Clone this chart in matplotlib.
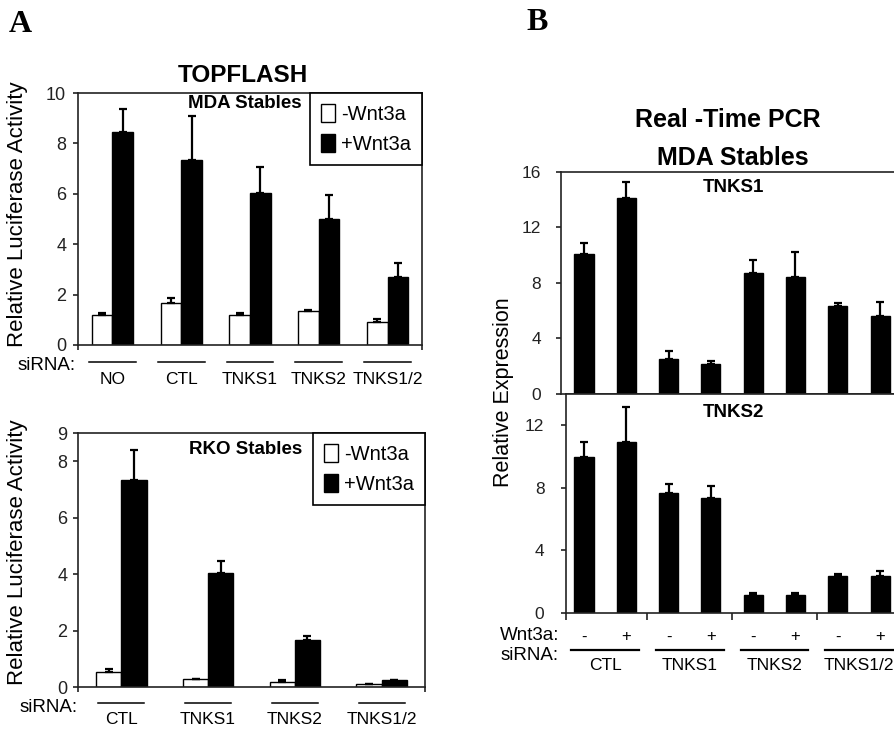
import matplotlib
matplotlib.use("Agg")
import matplotlib.pyplot as plt
from matplotlib.patches import Patch
from matplotlib.transforms import blended_transform_factory

# ---------------- data ----------------
mda_cats = ['NO', 'CTL', 'TNKS1', 'TNKS2', 'TNKS1/2']
mda_minus = [1.2, 1.65, 1.2, 1.33, 0.9]
mda_minus_err = [0.05, 0.22, 0.06, 0.07, 0.13]
mda_plus = [8.45, 7.35, 6.05, 5.0, 2.7]
mda_plus_err = [0.9, 1.75, 1.0, 0.97, 0.55]

rko_cats = ['CTL', 'TNKS1', 'TNKS2', 'TNKS1/2']
rko_minus = [0.53, 0.3, 0.18, 0.12]
rko_minus_err = [0.12, 0.0, 0.06, 0.0]
rko_plus = [7.35, 4.05, 1.66, 0.24]
rko_plus_err = [1.03, 0.42, 0.15, 0.02]

pcr_groups = ['CTL', 'TNKS1', 'TNKS2', 'TNKS1/2']
wnt_signs = ['-', '+', '-', '+', '-', '+', '-', '+']
tnks1_expr = [10.1, 14.1, 2.55, 2.15, 8.7, 8.45, 6.35, 5.65]
tnks1_err = [0.8, 1.2, 0.52, 0.25, 0.95, 1.8, 0.22, 0.95]
tnks2_expr = [10.0, 10.9, 7.7, 7.35, 1.13, 1.13, 2.37, 2.37]
tnks2_err = [0.95, 2.3, 0.57, 0.77, 0.17, 0.17, 0.15, 0.3]

legend_labels = ['-Wnt3a', '+Wnt3a']

# ---------------- figure ----------------
plt.rcParams['font.family'] = ['Liberation Sans', 'DejaVu Sans']
W, H = 895, 729
fig = plt.figure(figsize=(W / 100, H / 100), dpi=100)


def px_axes(l, t, r, b):
    return fig.add_axes([l / W, 1 - b / H, (r - l) / W, (b - t) / H])


def style(ax, pad=4, size=13):
    for s in ax.spines.values():
        s.set_linewidth(1.2)
        s.set_color('#222222')
    ax.tick_params(axis='both', direction='out', length=3.5, width=1.2,
                   labelsize=size, colors='#222222', pad=pad)


def err_up(ax, x, vals, errs):
    ax.errorbar(x, vals, yerr=[[0] * len(vals), errs], fmt='none',
                ecolor='black', elinewidth=1.6, capsize=3.2, capthick=1.6)


def make_legend(ax, handles):
    lg = ax.legend(handles, legend_labels, loc='upper right', bbox_to_anchor=(1, 1),
                   borderaxespad=0, fancybox=False, edgecolor='black', framealpha=1,
                   fontsize=14.5, handlelength=0.7, handleheight=1.0, handletextpad=0.3,
                   borderpad=0.55, labelspacing=0.5)
    lg.get_frame().set_linewidth(1.2)
    return lg


handles = [Patch(facecolor='white', edgecolor='black', linewidth=1.0),
           Patch(facecolor='black', edgecolor='black', linewidth=1.0)]

# ---- Panel A top: MDA Stables ----
ax1 = px_axes(78, 93, 422, 345)
style(ax1, pad=5)
n1 = len(mda_cats)
bw1 = 0.3
xc1 = [i + 0.5 for i in range(n1)]
xm1 = [x - bw1 / 2 for x in xc1]
xp1 = [x + bw1 / 2 for x in xc1]
ax1.bar(xm1, mda_minus, width=bw1, color='white', edgecolor='black', linewidth=1.0)
ax1.bar(xp1, mda_plus, width=bw1, color='black', edgecolor='black', linewidth=1.0)
err_up(ax1, xm1, mda_minus, mda_minus_err)
err_up(ax1, xp1, mda_plus, mda_plus_err)
ax1.set_xlim(0, n1)
ax1.set_ylim(0, 10)
ax1.set_yticks([0, 2, 4, 6, 8, 10])
ax1.set_xticks([0, n1])
ax1.set_xticklabels([])
ax1.text(245 / W, 1 - 103 / H, 'MDA Stables', transform=fig.transFigure, ha='center',
         va='center', fontsize=13.5, fontweight='bold')
make_legend(ax1, handles)
tr1 = blended_transform_factory(ax1.transData, fig.transFigure)
for i, c in enumerate(mda_cats):
    ax1.plot([xc1[i] - 0.34, xc1[i] + 0.34], [1 - 362 / H] * 2, color='black', lw=1.1,
             transform=tr1, clip_on=False)
    ax1.text(xc1[i], 1 - 380 / H, c, transform=tr1, ha='center', va='center', fontsize=12.5)
fig.text(76 / W, 1 - 365 / H, 'siRNA:', ha='right', va='center', fontsize=13.5)
fig.text(243 / W, 1 - 75 / H, 'TOPFLASH', ha='center', va='center', fontsize=17.5,
         fontweight='bold')
fig.text(18 / W, 1 - 214 / H, 'Relative Luciferase Activity', rotation=90, ha='center',
         va='center', fontsize=16)

# ---- Panel A bottom: RKO Stables ----
ax2 = px_axes(78, 433, 425, 687)
style(ax2, pad=4)
n2 = len(rko_cats)
bw2 = 0.29
xc2 = [i + 0.5 for i in range(n2)]
xm2 = [x - bw2 / 2 for x in xc2]
xp2 = [x + bw2 / 2 for x in xc2]
ax2.bar(xm2, rko_minus, width=bw2, color='white', edgecolor='black', linewidth=1.0)
ax2.bar(xp2, rko_plus, width=bw2, color='black', edgecolor='black', linewidth=1.0)
err_up(ax2, xm2, rko_minus, rko_minus_err)
err_up(ax2, xp2, rko_plus, rko_plus_err)
ax2.set_xlim(0, n2)
ax2.set_ylim(0, 9)
ax2.set_yticks([0, 2, 4, 6, 8, 9])
ax2.set_xticks([0, n2])
ax2.set_xticklabels([])
ax2.text(246 / W, 1 - 450 / H, 'RKO Stables', transform=fig.transFigure, ha='center',
         va='center', fontsize=13.5, fontweight='bold')
make_legend(ax2, handles)
tr2 = blended_transform_factory(ax2.transData, fig.transFigure)
for i, c in enumerate(rko_cats):
    ax2.plot([xc2[i] - 0.265, xc2[i] + 0.265], [1 - 703 / H] * 2, color='black', lw=1.1,
             transform=tr2, clip_on=False)
    ax2.text(xc2[i], 1 - 720 / H, c, transform=tr2, ha='center', va='center', fontsize=12.5)
fig.text(78 / W, 1 - 707 / H, 'siRNA:', ha='right', va='center', fontsize=13.5)
fig.text(18 / W, 1 - 552 / H, 'Relative Luciferase Activity', rotation=90, ha='center',
         va='center', fontsize=16)

# ---- Panel B: Real-Time PCR ----
slot = 42.3
x0 = 584
nb = len(tnks1_expr)
right_px = x0 + slot * (nb - 0.5)
xb = list(range(nb))
bwb = 0.45

ax3 = px_axes(561, 172, right_px, 394)
style(ax3, pad=11, size=12.5)
ax3.bar(xb, tnks1_expr, width=bwb, color='black', edgecolor='black', linewidth=1.0)
err_up(ax3, xb, tnks1_expr, tnks1_err)
ax3.set_xlim((561 - x0) / slot, nb - 0.5)
ax3.set_ylim(0, 16)
ax3.set_yticks([0, 4, 8, 12, 16])
ax3.set_xticks([])
ax3.text(733 / W, 1 - 188 / H, 'TNKS1', transform=fig.transFigure, ha='center', va='center',
         fontsize=13.5, fontweight='bold')

ax4 = px_axes(566, 394, right_px, 613)
style(ax4, pad=12, size=12.5)
ax4.bar(xb, tnks2_expr, width=bwb, color='black', edgecolor='black', linewidth=1.0)
err_up(ax4, xb, tnks2_expr, tnks2_err)
x4l = (566 - x0) / slot
ax4.set_xlim(x4l, nb - 0.5)
ax4.set_ylim(0, 14)
ax4.set_yticks([0, 4, 8, 12])
ax4.set_xticks([x4l, 1.5, 3.5, 5.5])
ax4.set_xticklabels([])
ax4.tick_params(axis='x', length=5)
ax4.text(733 / W, 1 - 412 / H, 'TNKS2', transform=fig.transFigure, ha='center', va='center',
         fontsize=13.5, fontweight='bold')

tr4 = blended_transform_factory(ax4.transData, fig.transFigure)
for i, s in enumerate(wnt_signs):
    ax4.text(xb[i], 1 - 637 / H, s, transform=tr4, ha='center', va='center', fontsize=12)
for g, name in enumerate(pcr_groups):
    c = 2 * g + 0.5
    ax4.plot([c - 0.8, c + 0.8], [1 - 650 / H] * 2, color='black', lw=1.6,
             transform=tr4, clip_on=False)
    ax4.text(c, 1 - 665 / H, name, transform=tr4, ha='center', va='center', fontsize=12.5)
fig.text(559 / W, 1 - 636 / H, 'Wnt3a:', ha='right', va='center', fontsize=13.5)
fig.text(559 / W, 1 - 656 / H, 'siRNA:', ha='right', va='center', fontsize=13.5)

fig.text(728 / W, 1 - 120 / H, 'Real -Time PCR', ha='center', va='center', fontsize=18,
         fontweight='bold')
fig.text(733 / W, 1 - 158 / H, 'MDA Stables', ha='center', va='center', fontsize=18,
         fontweight='bold')
fig.text(503 / W, 1 - 392 / H, 'Relative Expression', rotation=90, ha='center',
         va='center', fontsize=15.5)

fig.text(20 / W, 1 - 25 / H, 'A', ha='center', va='center', fontsize=23,
         fontweight='bold', family=['Liberation Serif', 'DejaVu Serif'])
fig.text(537 / W, 1 - 23 / H, 'B', ha='center', va='center', fontsize=23,
         fontweight='bold', family=['Liberation Serif', 'DejaVu Serif'])

fig.savefig('out.png', dpi=100)
